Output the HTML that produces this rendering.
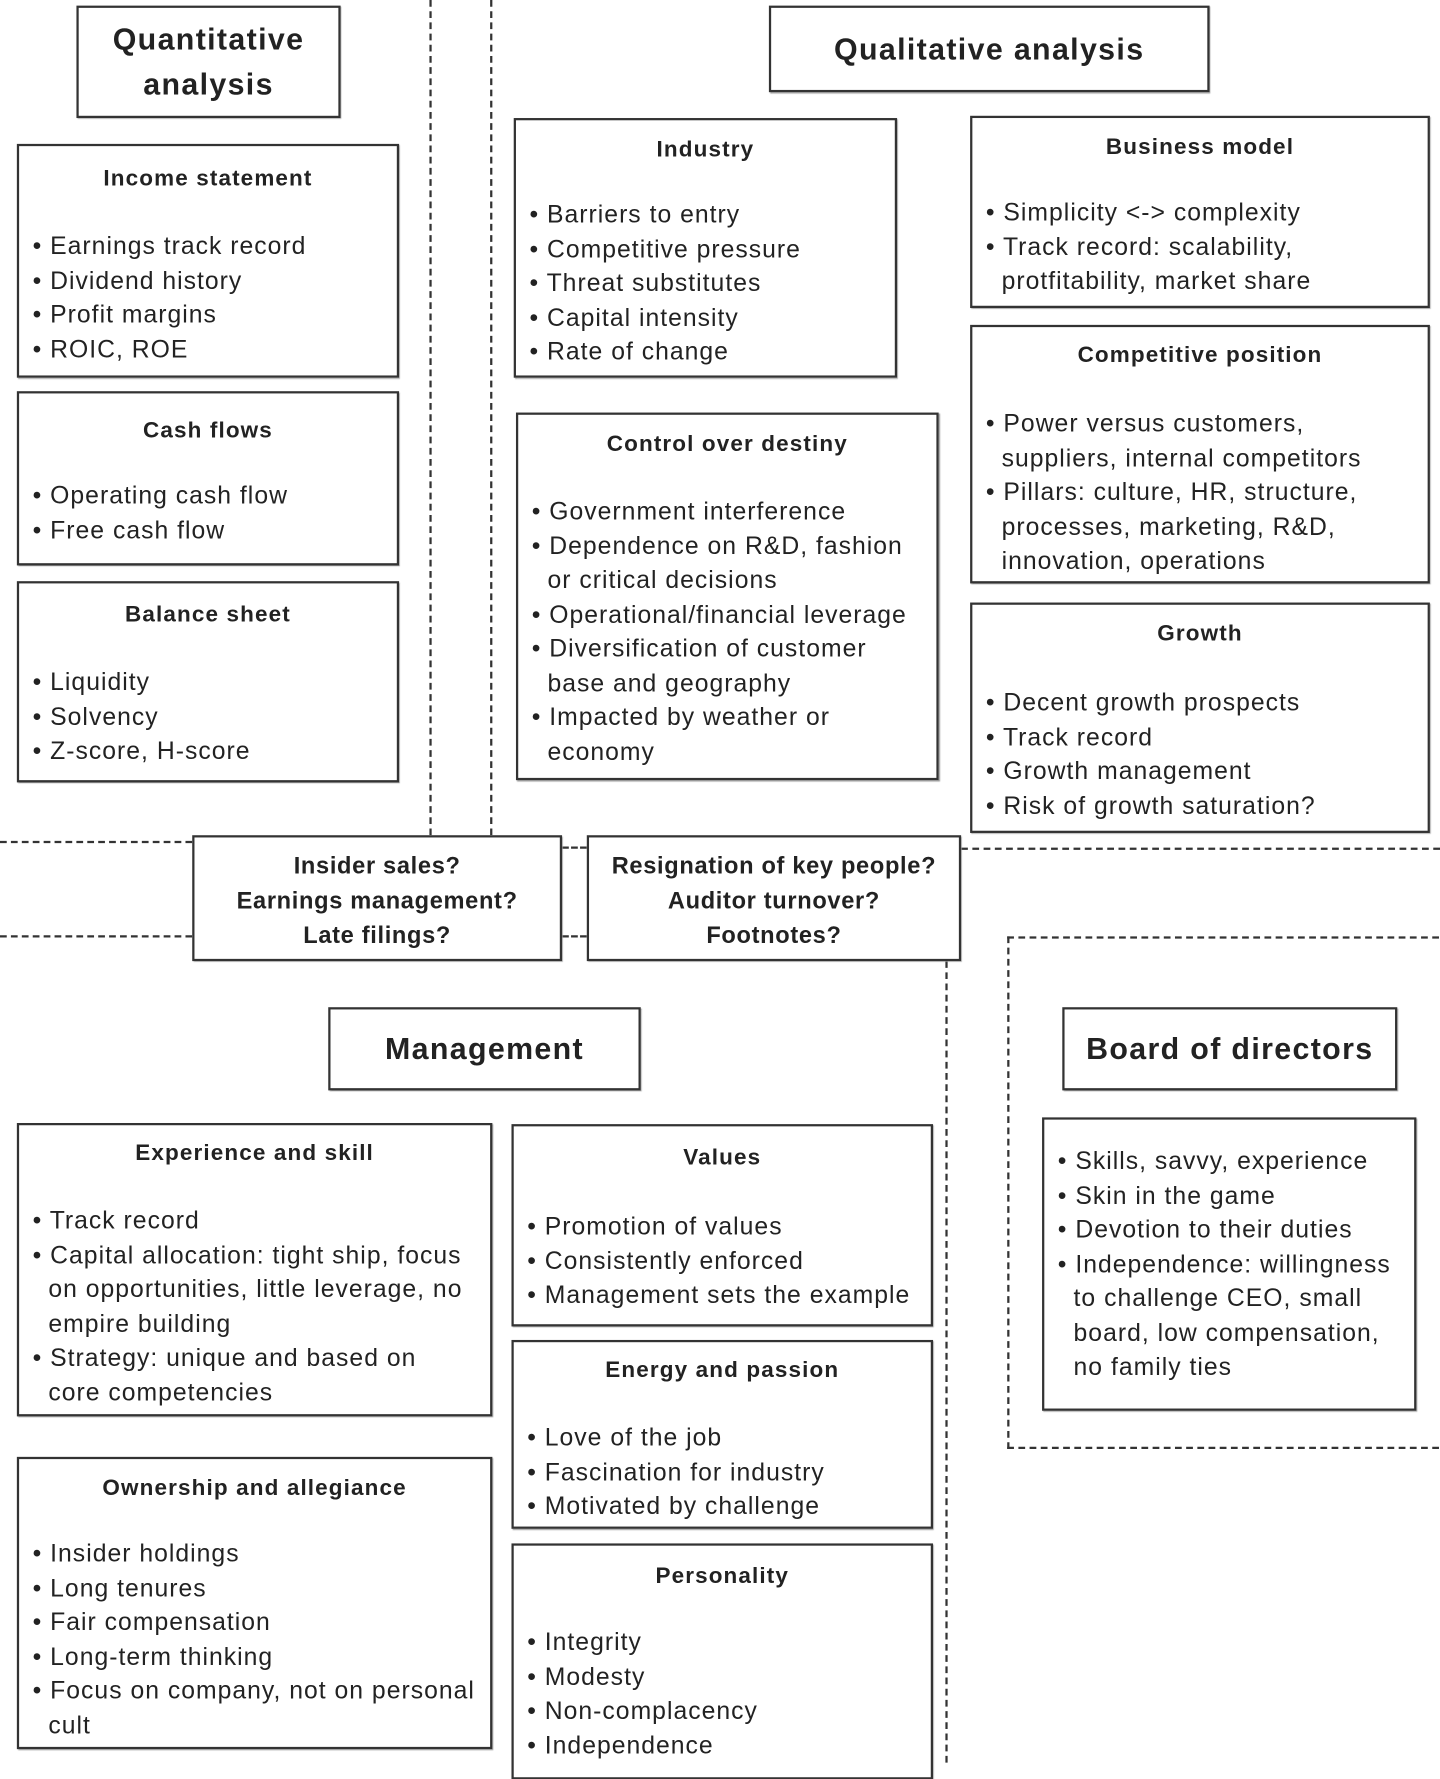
<!DOCTYPE html>
<html><head><meta charset="utf-8"><style>
html,body{margin:0;padding:0;background:#fff;}
body{width:1440px;height:1763px;overflow:hidden;position:relative;}
#w{position:absolute;left:0;top:0;width:1281px;height:1568px;transform:scale(1.12412);transform-origin:0 0;font-family:"Liberation Sans",sans-serif;color:#222;}
.b{position:absolute;border:2px solid #333;box-sizing:border-box;background:#fff;box-shadow:1px 1px 1px #999;}
.t{position:absolute;left:0;right:0;text-align:center;font-weight:bold;font-size:20px;letter-spacing:1px;line-height:30px;margin-top:3px;}
.l{position:absolute;left:6px;right:12px;font-size:22px;letter-spacing:0.9px;line-height:30.5px;margin-top:2px;}
.l div{padding-left:20px;text-indent:-14px;}
.l div:before{content:"• ";}
.h{position:absolute;border-style:dashed;border-color:#333;border-width:0;}
.big{font-weight:bold;font-size:27px;letter-spacing:1.2px;text-align:center;display:flex;align-items:center;justify-content:center;line-height:40px;}
</style></head><body><div id="w">

<div class="h" style="left:382px;top:0;height:743px;border-left-width:2px"></div>
<div class="h" style="left:436px;top:0;height:743px;border-left-width:2px"></div>
<div class="h" style="left:0;top:748px;width:171px;border-top-width:2px"></div>
<div class="h" style="left:500px;top:753px;width:22px;border-top-width:2px"></div>
<div class="h" style="left:855px;top:754px;width:426px;border-top-width:2px"></div>
<div class="h" style="left:0;top:832px;width:171px;border-top-width:2px"></div>
<div class="h" style="left:500px;top:832px;width:22px;border-top-width:2px"></div>
<div class="h" style="left:841px;top:855px;height:713px;border-left-width:2px"></div>
<div class="h" style="left:896px;top:833px;width:400px;height:452px;border-width:2px"></div>

<div class="b big" style="left:68px;top:5px;width:235px;height:100px;line-height:40px">Quantitative<br>analysis</div>
<div class="b big" style="left:684px;top:5px;width:392px;height:77px">Qualitative analysis</div>

<div class="b" style="left:15px;top:128px;width:340px;height:208px"><div class="t" style="top:11px">Income statement</div><div class="l" style="top:72px"><div>Earnings track record</div><div>Dividend history</div><div>Profit margins</div><div>ROIC, ROE</div></div></div>
<div class="b" style="left:15px;top:348px;width:340px;height:155px"><div class="t" style="top:15px">Cash flows</div><div class="l" style="top:74px"><div>Operating cash flow</div><div>Free cash flow</div></div></div>
<div class="b" style="left:15px;top:517px;width:340px;height:179px"><div class="t" style="top:10px">Balance sheet</div><div class="l" style="top:71px"><div>Liquidity</div><div>Solvency</div><div>Z-score, H-score</div></div></div>

<div class="b" style="left:457px;top:105px;width:341px;height:231px"><div class="t" style="top:8px">Industry</div><div class="l" style="top:67px"><div>Barriers to entry</div><div>Competitive pressure</div><div>Threat substitutes</div><div>Capital intensity</div><div>Rate of change</div></div></div>
<div class="b" style="left:459px;top:367px;width:376px;height:327px"><div class="t" style="top:8px">Control over destiny</div><div class="l" style="top:69px"><div>Government interference</div><div>Dependence on R&amp;D, fashion or critical decisions</div><div>Operational/financial leverage</div><div>Diversification of customer base and geography</div><div>Impacted by weather or economy</div></div></div>

<div class="b" style="left:863px;top:103px;width:409px;height:171px"><div class="t" style="top:8px">Business model</div><div class="l" style="top:67px"><div>Simplicity &lt;-&gt; complexity</div><div>Track record: scalability, protfitability, market share</div></div></div>
<div class="b" style="left:863px;top:289px;width:409px;height:230px"><div class="t" style="top:7px">Competitive position</div><div class="l" style="top:69px"><div>Power versus customers, suppliers, internal competitors</div><div>Pillars: culture, HR, structure, processes, marketing, R&amp;D, innovation, operations</div></div></div>
<div class="b" style="left:863px;top:536px;width:409px;height:205px"><div class="t" style="top:8px">Growth</div><div class="l" style="top:70px"><div>Decent growth prospects</div><div>Track record</div><div>Growth management</div><div>Risk of growth saturation?</div></div></div>

<div class="b" style="left:171px;top:743px;width:329px;height:112px"><div class="t" style="top:7px;font-size:21px;letter-spacing:0.6px;line-height:31px">Insider sales?<br>Earnings management?<br>Late filings?</div></div>
<div class="b" style="left:522px;top:743px;width:333px;height:112px"><div class="t" style="top:7px;font-size:21px;letter-spacing:0.6px;line-height:31px">Resignation of key people?<br>Auditor turnover?<br>Footnotes?</div></div>

<div class="b big" style="left:292px;top:896px;width:278px;height:74px">Management</div>
<div class="b big" style="left:945px;top:896px;width:298px;height:74px">Board of directors</div>

<div class="b" style="left:927px;top:994px;width:333px;height:261px"><div class="l" style="top:20px"><div>Skills, savvy, experience</div><div>Skin in the game</div><div>Devotion to their duties</div><div>Independence: willingness to challenge CEO, small board, low compensation, no family ties</div></div></div>

<div class="b" style="left:15px;top:999px;width:423px;height:261px"><div class="t" style="top:7px">Experience and skill</div><div class="l" style="top:68px"><div>Track record</div><div>Capital allocation: tight ship, focus on opportunities, little leverage, no empire building</div><div>Strategy: unique and based on<br>core competencies</div></div></div>
<div class="b" style="left:15px;top:1296px;width:423px;height:260px"><div class="t" style="top:8px">Ownership and allegiance</div><div class="l" style="top:67px"><div>Insider holdings</div><div>Long tenures</div><div>Fair compensation</div><div>Long-term thinking</div><div>Focus on company, not on personal cult</div></div></div>

<div class="b" style="left:455px;top:1000px;width:375px;height:180px"><div class="t" style="top:10px">Values</div><div class="l" style="top:72px"><div>Promotion of values</div><div>Consistently enforced</div><div>Management sets the example</div></div></div>
<div class="b" style="left:455px;top:1192px;width:375px;height:168px"><div class="t" style="top:7px">Energy and passion</div><div class="l" style="top:68px"><div>Love of the job</div><div>Fascination for industry</div><div>Motivated by challenge</div></div></div>
<div class="b" style="left:455px;top:1373px;width:375px;height:210px"><div class="t" style="top:9px">Personality</div><div class="l" style="top:69px"><div>Integrity</div><div>Modesty</div><div>Non-complacency</div><div>Independence</div></div></div>

</div></body></html>
